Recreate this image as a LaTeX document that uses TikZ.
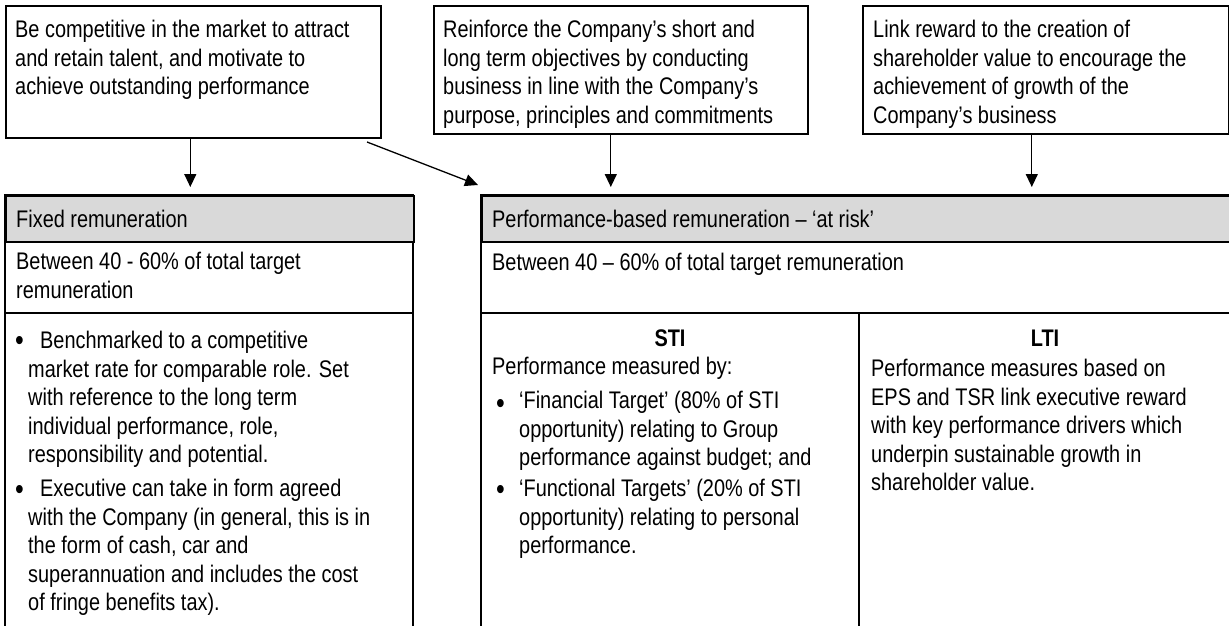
\documentclass[tikz,border=0pt]{standalone}
\usepackage{fontspec}
\setmainfont{Liberation Sans}[FakeStretch=0.83]
\usetikzlibrary{arrows.meta}
\definecolor{headgray}{RGB}{217,217,217}
\newcommand{\remfont}{\fontsize{24}{28.5}\selectfont}

\begin{document}
\begin{tikzpicture}[x=1pt,y=-1pt,
    aimbox/.style={draw,line width=1.6pt,anchor=north west,inner sep=0pt},
    headbox/.style={draw,line width=2pt,fill=headgray,anchor=north west,inner sep=0pt,minimum height=46},
    tabline/.style={line width=2pt},
    txt/.style={anchor=north west,inner sep=0pt,align=left,font=\remfont,execute at begin node=\strut},
    dot/.style={txt,font=\fontsize{30}{30}\selectfont},
    arr/.style={line width=1.3pt,-{Triangle[width=12pt,length=13pt]}}]
  \useasboundingbox (0,0) rectangle (1229,626);
  \clip (0,0) rectangle (1229,626);

  % the three aims
  \node[aimbox,minimum width=375,minimum height=132] (aim1) at (5,5) {};
  \node[aimbox,minimum width=374,minimum height=128] (aim2) at (433,5) {};
  \node[aimbox,minimum width=366,minimum height=128] (aim3) at (862,5) {};
  \node[txt] (aim1txt) at (15,20) {Be competitive in the market to attract\\and retain talent, and motivate to\\achieve outstanding performance};
  \node[txt] (aim2txt) at (443,20) {Reinforce the Company’s short and\\long term objectives by conducting\\business in line with the Company’s\\purpose, principles and commitments};
  \node[txt] (aim3txt) at (873,20) {Link reward to the creation of\\shareholder value to encourage the\\achievement of growth of the\\Company’s business};

  % fixed remuneration table
  \draw[tabline] (5,195) rectangle (413,680);
  \node[headbox,minimum width=408] (fixhead) at (5,195) {};
  \draw[tabline] (5,313) -- (413,313);
  \node[txt] (fixname) at (16,207) {Fixed remuneration};
  \node[txt] (fixshare) at (16,252) {Between 40 - 60\% of total target\\remuneration};
  \node[dot] (fixdot1) at (15,329) {•};
  \node[txt] (fixitem1) at (28,331) {\hspace*{12pt}Benchmarked to a competitive\\market rate for comparable role. Set\\with reference to the long term\\individual performance, role,\\responsibility and potential.};
  \node[dot] (fixdot2) at (15,478) {•};
  \node[txt] (fixitem2) at (28,479) {\hspace*{12pt}Executive can take in form agreed\\with the Company (in general, this is in\\the form of cash, car and\\superannuation and includes the cost\\of fringe benefits tax).};

  % performance-based table
  \draw[tabline] (481,195) rectangle (1240,680);
  \node[headbox,minimum width=759] (perfhead) at (481,195) {};
  \draw[tabline] (481,313) -- (1240,313);
  \draw[line width=1.3pt] (859,313) -- (859,680);
  \node[txt] (perfname) at (492,207) {Performance-based remuneration – ‘at risk’};
  \node[txt] (perfshare) at (492,250) {Between 40 – 60\% of total target remuneration};
  \node[txt,anchor=north] (sti) at (670,326) {\bfseries STI};
  \node[txt] (stiby) at (492,354) {Performance measured by:};
  \node[dot] (stidot1) at (496,392) {•};
  \node[txt] (stiitem1) at (519,391) {‘Financial Target’ (80\% of STI\\opportunity) relating to Group\\performance against budget; and};
  \node[dot] (stidot2) at (496,478) {•};
  \node[txt] (stiitem2) at (519,479) {‘Functional Targets’ (20\% of STI\\opportunity) relating to personal\\performance.};
  \node[txt,anchor=north] (lti) at (1045,326) {\bfseries LTI};
  \node[txt] (ltitxt) at (871,359) {Performance measures based on\\EPS and TSR link executive reward\\with key performance drivers which\\underpin sustainable growth in\\shareholder value.};

  % links from the aims
  \coordinate (cross0) at (367,142);
  \coordinate (cross1) at (478,185);
  \draw[arr,shorten >=8pt] ([xshift=-3pt]aim1.south) -- ([xshift=-3pt]aim1.south |- fixhead.north);
  \draw[arr,shorten >=8pt] ([xshift=-10pt]aim2.south) -- ([xshift=-10pt]aim2.south |- perfhead.north);
  \draw[arr,shorten >=8pt] ([xshift=-14pt]aim3.south) -- ([xshift=-14pt]aim3.south |- perfhead.north);
  \draw[arr] (cross0) -- (cross1);
\end{tikzpicture}
\end{document}
